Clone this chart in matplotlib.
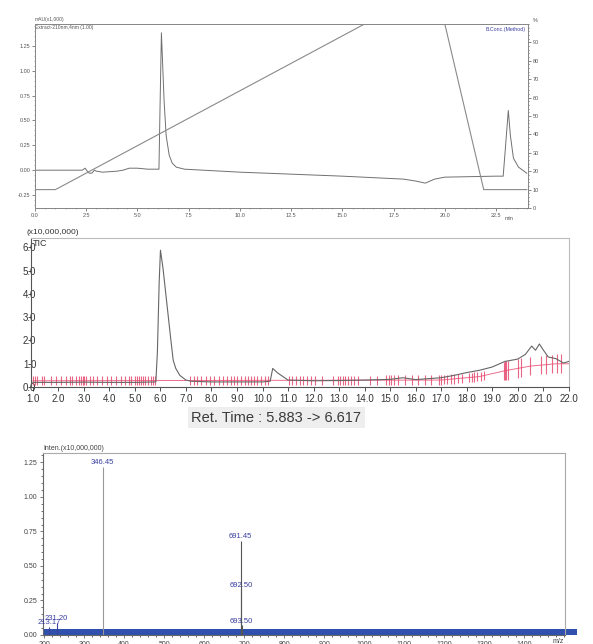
import numpy as np
import matplotlib.pyplot as plt
from matplotlib.ticker import MultipleLocator

plt.rcParams['font.family'] = ['Liberation Sans', 'DejaVu Sans']

# UV chromatogram, Extract-210nm (mAU x1,000)
uv_time = [0.0, 2.3, 2.45, 2.55, 2.65, 2.78, 2.9, 3.0, 3.3, 4.0, 4.3, 4.6, 5.0, 5.5,
           6.05, 6.1, 6.17, 6.3, 6.4, 6.55, 6.7, 6.9, 7.3, 10.0, 12.5, 15.0, 17.0,
           18.0, 18.6, 19.05, 19.5, 20.0, 22.5, 22.85, 22.95, 23.1, 23.2, 23.35,
           23.6, 24.0]
uv_mau = [0.0, 0.0, 0.02, -0.01, -0.03, -0.03, 0.0, -0.01, -0.02, -0.01, 0.0, 0.02,
          0.02, 0.01, 0.01, 0.6, 1.38, 0.7, 0.35, 0.15, 0.07, 0.03, 0.01, -0.02,
          -0.04, -0.06, -0.08, -0.09, -0.11, -0.13, -0.09, -0.07, -0.06, -0.06,
          0.2, 0.6, 0.35, 0.12, 0.03, -0.03]

# B.Conc gradient (%)
grad_time = [0.0, 1.0, 16.1, 20.0, 21.9, 24.0]
grad_pct = [10, 10, 100, 100, 10, 10]

# TIC (x10,000,000)
tic_time = [1.0, 2.0, 3.0, 4.0, 5.0, 5.82, 5.88, 5.95, 6.0, 6.1, 6.25, 6.4, 6.5,
            6.6, 6.76, 7.0, 7.2, 8.0, 9.0, 10.0, 10.3, 10.4, 10.6, 10.8, 11.0, 12.0,
            13.0, 14.0, 15.0, 15.5, 16.0, 17.0, 17.5, 18.0, 18.5, 19.0, 19.5, 20.0,
            20.3, 20.55, 20.7, 20.85, 21.0, 21.2, 21.5, 21.8, 22.0]
tic_int = [0.2, 0.2, 0.21, 0.2, 0.2, 0.22, 1.5, 4.5, 5.88, 5.1, 3.6, 2.1, 1.15,
           0.8, 0.5, 0.3, 0.25, 0.22, 0.22, 0.22, 0.25, 0.8, 0.6, 0.45, 0.3, 0.27,
           0.28, 0.3, 0.33, 0.4, 0.32, 0.4, 0.5, 0.62, 0.72, 0.86, 1.1, 1.2, 1.4,
           1.76, 1.58, 1.85, 1.6, 1.29, 1.22, 1.03, 1.1]
base_time = [1.0, 17.0, 18.5, 19.5, 20.5, 21.5, 22.0]
base_int = [0.27, 0.3, 0.45, 0.7, 0.9, 1.0, 1.0]
peak_marks = [1.02, 1.08, 1.15, 1.35, 1.45, 1.7, 1.9, 2.1, 2.3, 2.45, 2.55, 2.7,
              2.8, 2.88, 2.95, 3.02, 3.1, 3.25, 3.35, 3.5, 3.7, 3.9, 4.05, 4.25,
              4.45, 4.6, 4.75, 4.85, 5.0, 5.1, 5.15, 5.22, 5.3, 5.38, 5.5, 5.62,
              5.7, 5.8, 7.15, 7.3, 7.45, 7.6, 7.8, 7.95, 8.1, 8.3, 8.45, 8.6, 8.75,
              8.9, 9.0, 9.15, 9.3, 9.45, 9.55, 9.65, 9.8, 9.95, 10.1, 10.2, 11.05,
              11.15, 11.3, 11.45, 11.6, 11.75, 11.9, 12.05, 12.32, 12.77, 12.95,
              13.05, 13.15, 13.25, 13.35, 13.45, 13.6, 13.75, 14.2, 14.5, 14.85,
              14.95, 15.05, 15.15, 15.3, 15.6, 15.85, 16.1, 16.35, 16.6, 16.9, 17.0,
              17.1, 17.25, 17.4, 17.5, 17.65, 17.8, 18.1, 18.2, 18.3, 18.4, 18.55,
              18.7, 19.45, 19.5, 19.55, 19.62, 20.0, 20.15, 20.5, 20.9, 21.1, 21.35,
              21.55, 21.7]

# Mass spectrum, Ret. Time 5.883 -> 6.617 (x10,000,000)
ms_mz = [213.17, 231.20, 346.45, 691.45, 692.50, 693.50]
ms_int = [0.06, 0.09, 1.22, 0.68, 0.33, 0.07]
noise_mz = [197.0, 1532.0]
noise_int = [0.045, 0.045]

fig = plt.figure(figsize=(5.93, 6.44), dpi=100)

# ---------------- panel 1 ----------------
ax1 = fig.add_axes([0.059, 0.677, 0.831, 0.286])
ax1.plot(uv_time, uv_mau, color='#707070', lw=0.7)
ax1.set_xlim(0, 24.05)
ax1.set_ylim(-0.38, 1.47)
ax1.xaxis.set_minor_locator(MultipleLocator(0.5))
ax1.yaxis.set_minor_locator(MultipleLocator(0.05))
ax1.set_xticks(np.arange(0, 22.6, 2.5))
ax1.set_xticklabels([f'{v:.1f}' for v in np.arange(0, 22.6, 2.5)])
ax1.set_yticks(np.arange(-0.25, 1.26, 0.25))
ax1.set_yticklabels([f'{v:.2f}' for v in np.arange(-0.25, 1.26, 0.25)])
ax1.tick_params(labelsize=4, colors='#555555', length=2, width=0.5, pad=1.5)
ax1.tick_params(which='minor', length=1, width=0.4, colors='#777777')
for s in ax1.spines.values():
    s.set_color('#888888')
    s.set_linewidth(0.7)
ax1.text(0.0, 1.012, 'mAU(x1,000)', transform=ax1.transAxes, fontsize=3.6,
         color='#555555', va='bottom')
ax1.text(0.0, 0.995, 'Extract-210nm,4nm (1.00)', transform=ax1.transAxes,
         fontsize=3.6, color='#555555', va='top')
ax1.text(22.9 / 24.05, -0.045, 'min', transform=ax1.transAxes, fontsize=4,
         color='#555555', va='top')

ax1r = ax1.twinx()
ax1r.plot(grad_time, grad_pct, color='#8a8a8a', lw=0.8)
ax1r.set_ylim(0, 100)
ax1r.set_yticks(range(0, 91, 10))
ax1r.yaxis.set_minor_locator(MultipleLocator(2))
ax1r.tick_params(labelsize=4, colors='#555555', length=2, width=0.5, pad=1.5)
ax1r.tick_params(which='minor', length=1, width=0.4)
for s in ax1r.spines.values():
    s.set_color('#888888')
    s.set_linewidth(0.7)
ax1r.text(1.01, 1.01, '%', transform=ax1r.transAxes, fontsize=4, color='#555555')
ax1r.text(0.995, 0.985, 'B.Conc.(Method)', transform=ax1r.transAxes, fontsize=3.8,
          color='#3a3fa0', ha='right', va='top')

# ---------------- panel 2 ----------------
ax2 = fig.add_axes([0.052, 0.399, 0.907, 0.231])
base_at = np.interp(peak_marks, base_time, base_int)
half = np.where(np.array(peak_marks) < 18.9, 0.2, 0.4)
ax2.vlines(peak_marks, base_at - half, base_at + half, color='#e84a70', lw=0.8,
           alpha=0.85)
ax2.plot(base_time, base_int, color='#e84a70', lw=0.7, alpha=0.8)
ax2.plot(tic_time, tic_int, color='#666666', lw=0.8)
ax2.set_xlim(0.92, 22.0)
ax2.set_ylim(0, 6.39)
ax2.set_xticks(range(1, 23))
ax2.set_xticklabels([f'{v:.1f}' for v in range(1, 23)])
ax2.set_yticks(range(0, 7))
ax2.set_yticklabels([f'{v:.1f}' for v in range(0, 7)])
ax2.tick_params(axis='x', labelsize=7, colors='#333333', length=3, width=0.6, pad=2)
ax2.tick_params(axis='y', labelsize=7, colors='#333333', length=2, width=0.6,
                pad=-6)
ax2.spines['left'].set_color('#555555')
ax2.spines['bottom'].set_color('#555555')
ax2.spines['top'].set_color('#bbbbbb')
ax2.spines['right'].set_color('#bbbbbb')
ax2.text(-0.008, 1.015, '(x10,000,000)', transform=ax2.transAxes, fontsize=6,
         color='#333333', va='bottom')
ax2.text(0.004, 0.995, 'TIC', transform=ax2.transAxes, fontsize=6.5,
         color='#333333', va='top')
fig.text(0.466, 0.351, 'Ret. Time : 5.883 -> 6.617', fontsize=10.5, ha='center',
         va='center', color='#3a3a3a',
         bbox=dict(facecolor='#eeeeee', edgecolor='none', pad=2.5))

# ---------------- panel 3 ----------------
ax3 = fig.add_axes([0.0725, 0.014, 0.880, 0.283])
ax3.fill_between(noise_mz, 0, noise_int, color='#2f50ad', lw=0, clip_on=False)
ax3.vlines(ms_mz, 0, ms_int, color=['#3a3fa0', '#3a3fa0', '#999999', '#555555',
                                   '#555555', '#555555'], lw=0.8)
for mz, inten in zip(ms_mz, ms_int):
    ax3.text(mz, inten + 0.005, f'{mz:.2f}', fontsize=5.5, color='#3a3fa0',
             ha='center', va='bottom')
ax3.set_xlim(197, 1502)
ax3.set_ylim(0, 1.32)
ax3.set_xticks(range(200, 1401, 100))
ax3.xaxis.set_minor_locator(MultipleLocator(20))
ax3.set_yticks(np.arange(0, 1.26, 0.25))
ax3.set_yticklabels([f'{v:.2f}' for v in np.arange(0, 1.26, 0.25)])
ax3.yaxis.set_minor_locator(MultipleLocator(0.05))
ax3.tick_params(labelsize=5, colors='#444444', length=2.5, width=0.5, pad=1.5)
ax3.tick_params(which='minor', length=1.2, width=0.4)
ax3.spines['left'].set_color('#666666')
ax3.spines['bottom'].set_color('#666666')
ax3.spines['top'].set_color('#aaaaaa')
ax3.spines['right'].set_color('#aaaaaa')
ax3.text(1485, -0.02, 'm/z', fontsize=5, color='#444444', ha='center', va='top')
ax3.text(0.0, 1.005, 'Inten.(x10,000,000)', transform=ax3.transAxes, fontsize=5,
         color='#444444', va='bottom')

fig.savefig('out.png', dpi=100)
